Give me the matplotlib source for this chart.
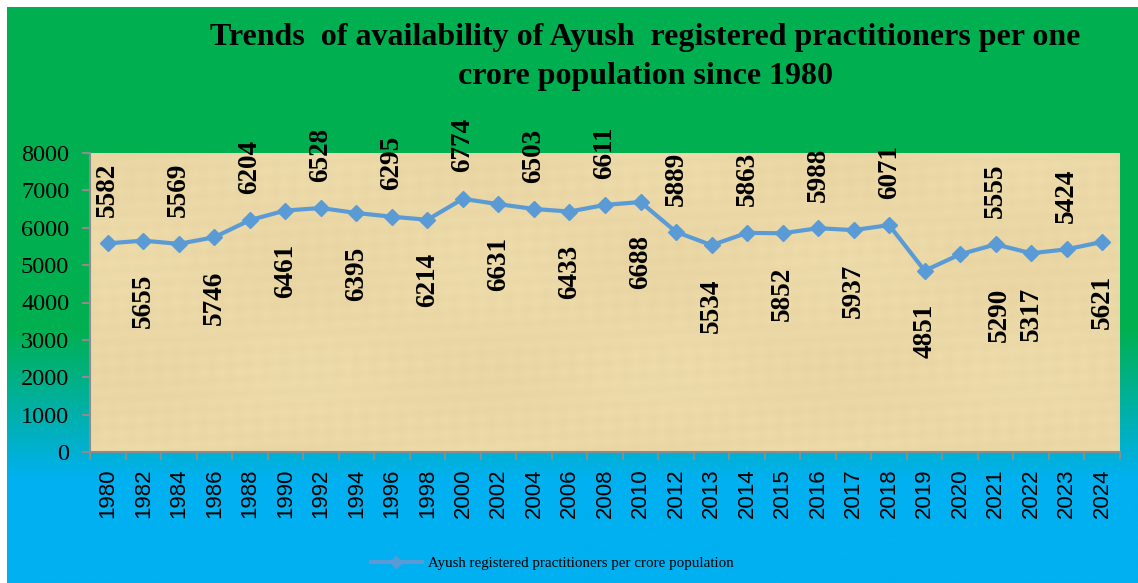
import numpy as np
import matplotlib
matplotlib.use("Agg")
import matplotlib.pyplot as plt
from matplotlib.lines import Line2D

years = ["1980", "1982", "1984", "1986", "1988", "1990", "1992", "1994", "1996",
         "1998", "2000", "2002", "2004", "2006", "2008", "2010", "2012", "2013",
         "2014", "2015", "2016", "2017", "2018", "2019", "2020", "2021", "2022",
         "2023", "2024"]
practitioners = [5582, 5655, 5569, 5746, 6204, 6461, 6528, 6395, 6295, 6214,
                 6774, 6631, 6503, 6433, 6611, 6688, 5889, 5534, 5863, 5852,
                 5988, 5937, 6071, 4851, 5290, 5555, 5317, 5424, 5621]
series_name = "Ayush registered practitioners per crore population"
title = ("Trends  of availability of Ayush  registered practitioners per one\n"
         "crore population since 1980")

# label placement: True = above the point
label_above = [i % 2 == 0 for i in range(23)] + [False, False, True, False, True, False]
label_dx = {24: 28}

W, H = 1138, 583
fig = plt.figure(figsize=(W / 100, H / 100), dpi=100)
fig.patch.set_facecolor("white")

# background gradient green -> blue
bg = fig.add_axes([7 / W, 0, 1 - 7 / W, 1 - 7 / H])
bg.set_axis_off()
rows = np.linspace(0, 1, 400)
green = np.array([0, 176, 80]) / 255
blue = np.array([0, 176, 240]) / 255
t = np.clip((rows - 0.56) / (0.82 - 0.56), 0, 1)
grad = green[None, :] * (1 - t[:, None]) + blue[None, :] * t[:, None]
bg.imshow(grad[:, None, :], aspect="auto", extent=[0, 1, 0, 1], origin="upper")

left, right, top, bottom = 90, 1120, 153, 452
ax = fig.add_axes([left / W, 1 - bottom / H, (right - left) / W, (bottom - top) / H])

# parchment-like plot area
yy, xx = np.mgrid[0:120, 0:400]
tex = (0.5 * np.sin(xx * 0.9) * np.sin(yy * 0.13) + 0.5 * np.sin(yy * 1.1 + xx * 0.05)
       + 0.8 * np.sin(xx * 0.045 + 1.0) * np.cos(yy * 0.07))
tex = (tex - tex.min()) / (tex.max() - tex.min())
base = np.array([238, 220, 172]) / 255
dark = np.array([224, 202, 146]) / 255
img = base[None, None, :] * (1 - tex[..., None] * 0.45) + dark[None, None, :] * tex[..., None] * 0.45
ax.imshow(img, aspect="auto", extent=[-0.5, len(years) - 0.5, 0, 8000], zorder=0)

x = np.arange(len(years))
ax.plot(x, practitioners, color="#5B9BD5", lw=3, marker="D", ms=8.5, zorder=3)

for i, v in enumerate(practitioners):
    if label_above[i]:
        off, va = 19, "bottom"
    else:
        off, va = -24, "top"
    ax.annotate(str(v), (x[i], v), xytext=(label_dx.get(i, 0), off),
                textcoords="offset points", rotation=90, ha="center", va=va,
                fontsize=19.5, fontweight="bold", family="Liberation Serif",
                annotation_clip=False, zorder=4)

ax.set_xlim(-0.5, len(years) - 0.5)
ax.set_ylim(0, 8000)
ax.set_yticks(range(0, 8001, 1000))
ax.set_yticklabels([str(v) for v in range(0, 8001, 1000)], family="Liberation Serif", fontsize=17.5)
ax.set_xticks(x)
ax.set_xticklabels(years, rotation=90, family="Liberation Sans", fontsize=16)
ax.set_xticks(np.arange(-0.5, len(years)), minor=True)
ax.tick_params(axis="x", which="major", length=0, pad=12)
ax.tick_params(axis="x", which="minor", length=6, width=1.5, color="#8C8C8C")
ax.tick_params(axis="y", length=6, width=1.5, color="#8C8C8C", pad=9)
for s in ["top", "right"]:
    ax.spines[s].set_visible(False)
for s in ["left", "bottom"]:
    ax.spines[s].set_color("#8C8C8C")
    ax.spines[s].set_linewidth(1.5)

fig.text(645 / W, 1 - 57 / H, title, ha="center", va="center", fontsize=23,
         fontweight="bold", family="Liberation Serif", linespacing=1.45)

handle = Line2D([], [], color="#5B9BD5", lw=3, marker="D", ms=6)
fig.legend([handle], [series_name], loc="center", bbox_to_anchor=(552 / W, 1 - 563 / H),
           frameon=False, prop={"family": "Liberation Serif", "size": 10.8},
           handlelength=3.4, handletextpad=0.4)

fig.savefig("out.png", dpi=100)
